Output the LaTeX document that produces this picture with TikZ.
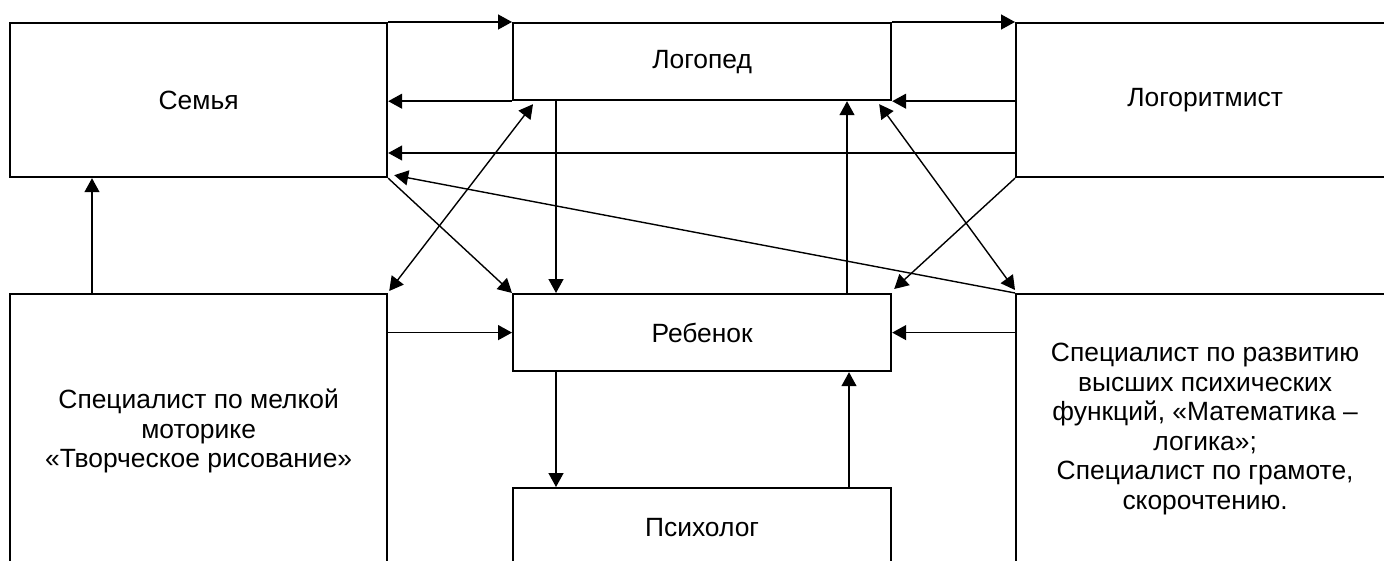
\documentclass[tikz,border=0pt]{standalone}
\usepackage{fontspec}
\setmainfont{Liberation Sans}
\usetikzlibrary{arrows.meta}
\tikzset{
  box/.style={draw, line width=1.1pt, inner sep=0pt, anchor=north west, align=center,
    font=\fontsize{13.2}{14.8}\selectfont},
  tip/.style={Triangle[length=7pt,width=7.5pt]},
  arr/.style={-{Triangle[length=7pt,width=7.5pt]}, line width=0.7pt},
  darr/.style={{Triangle[length=7pt,width=7.5pt]}-{Triangle[length=7pt,width=7.5pt]}, line width=0.7pt}
}
\begin{document}
\begin{tikzpicture}[x=0.5pt,y=-0.5pt]
\useasboundingbox (0,0) rectangle (1384,561);
\clip (0,0) rectangle (1384,561);
\node[box, minimum width=188.5pt, minimum height=77pt] (sem) at (9,22) {Семья};
\node[box, minimum width=189pt, minimum height=38.5pt] (log) at (512,22) {Логопед};
\node[box, minimum width=189pt, minimum height=77pt] (lr) at (1015,22) {Логоритмист};
\node[box, minimum width=188.5pt, minimum height=137pt] (lb) at (9,293) {Специалист по мелкой\\моторике\\«Творческое рисование»};
\node[box, minimum width=189pt, minimum height=38.5pt] (reb) at (512,293) {Ребенок};
\node[box, minimum width=189pt, minimum height=135pt] (rb) at (1015,293) {Специалист по развитию\\высших психических\\функций, «Математика –\\логика»;\\Специалист по грамоте,\\скорочтению.};
\node[box, minimum width=189pt, minimum height=39pt] (psy) at (512,487) {Психолог};

% top row
\draw[arr] (sem.north east) -- (log.north west);
\draw[arr] (log.south west) -- (sem.east |- log.south west);
\draw[arr] (lr.west |- 0,153) -- (sem.east |- 0,153);
\draw[arr] (log.north east) -- (lr.north west);
\draw[arr] (lr.west |- log.south east) -- (log.south east);
% diagonals
\draw[arr] (rb.north west) -- ([shift={(6,-3)}]sem.south east);
\draw[arr] (sem.south east) -- (reb.north west);
\draw[darr] ([shift={(1,-2)}]lb.north east) -- ([shift={(21,3)}]log.south west);
\draw[darr] ([shift={(-13,3)}]log.south east) -- ([shift={(0,-3)}]rb.north west);
\draw[arr] (lr.south west) -- ([shift={(2,-4)}]reb.north east);
% verticals
\draw[arr] ([xshift=22pt]log.south west) -- ([xshift=22pt]reb.north west);
\draw[arr] ([xshift=167.5pt]reb.north west) -- ([xshift=167.5pt]log.south west);
\draw[arr] ([xshift=41.5pt]lb.north west) -- ([xshift=41.5pt]sem.south west);
\draw[arr] ([xshift=22pt]reb.south west) -- ([xshift=22pt]psy.north west);
\draw[arr] ([xshift=168.5pt]psy.north west) -- ([xshift=168.5pt]reb.south west);
% side arrows into child
\draw[arr] (lb.east |- reb.west) -- (reb.west);
\draw[arr] (rb.west |- reb.east) -- (reb.east);
\end{tikzpicture}
\end{document}
